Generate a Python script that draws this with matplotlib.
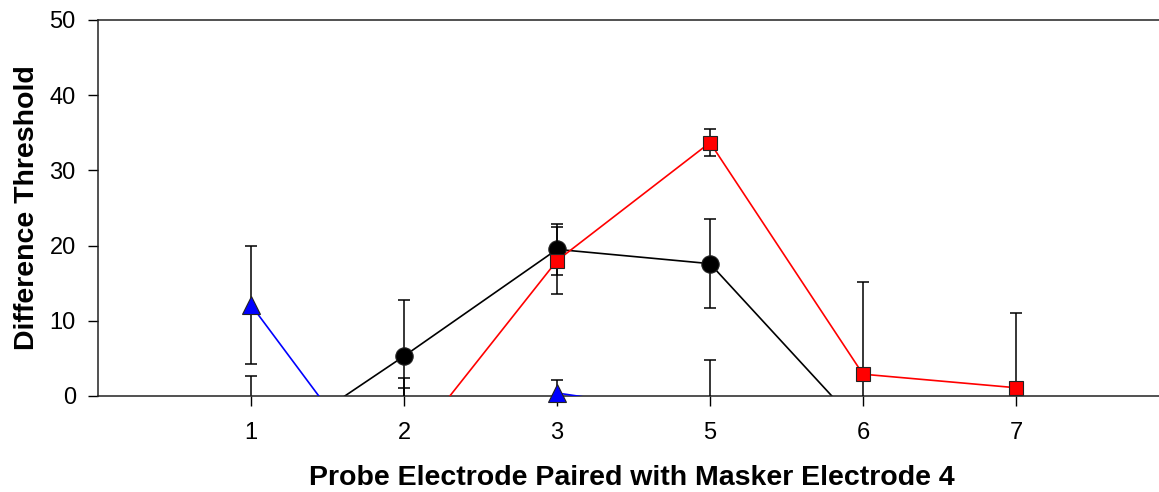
import numpy as np
import matplotlib
matplotlib.use("Agg")
import matplotlib.pyplot as plt

plt.rcParams['font.family'] = ['Liberation Sans', 'DejaVu Sans']

categories = ['1', '2', '3', '5', '6', '7']

black_vals = [-8.4, 5.3, 19.5, 17.6, -4.5, np.nan]
black_err = [11.1, 7.4, 3.4, 5.9, 3.0, np.nan]

red_vals = [np.nan, -7.7, 18.0, 33.7, 2.9, 1.1]
red_err = [np.nan, 8.8, 4.5, 1.8, 12.2, 10.0]

blue_vals = [12.1, -15.2, 0.4, -2.6, np.nan, np.nan]
blue_err = [7.8, 17.6, 1.7, 7.4, np.nan, np.nan]

fig = plt.figure(figsize=(11.59, 4.92), dpi=100)
ax = fig.add_axes([98 / 1159, 96 / 492, 1 - 98 / 1159, 376 / 492])

x = np.arange(1, len(categories) + 1)

series = [
    (black_vals, black_err, 'black', 'o', 12.5, 'black'),
    (red_vals, red_err, 'red', 's', 10.5, 'red'),
    (blue_vals, blue_err, 'blue', '^', 12.5, 'blue'),
]

z = 2
for vals, errs, lc, mk, ms, fc in series:
    v = np.array(vals, dtype=float)
    e = np.array(errs, dtype=float)
    ax.errorbar(x, v, yerr=e, fmt='none', ecolor='black', elinewidth=1.1,
                capsize=4, capthick=1.1, zorder=z)
    ax.plot(x, v, color=lc, lw=1.2, zorder=z + 0.1)
    vm = np.where(v >= 0, v, np.nan)
    ax.plot(x, vm, linestyle='none', marker=mk, markersize=ms,
            markerfacecolor=fc, markeredgecolor='#222222', markeredgewidth=0.8,
            clip_on=False, zorder=z + 0.2)
    z += 1

ax.set_xlim(0, (1159 - 98) / 153)
ax.set_ylim(0, 50)
ax.set_xticks(x)
ax.set_xticklabels(categories)
ax.set_yticks([0, 10, 20, 30, 40, 50])

for s in ['left', 'bottom', 'top']:
    ax.spines[s].set_linewidth(1.1)
    ax.spines[s].set_color('#222222')
ax.spines['right'].set_visible(False)

ax.tick_params(axis='both', direction='out', length=7, width=1.0,
               labelsize=17, colors='black')
ax.tick_params(axis='x', pad=12)
ax.tick_params(axis='y', pad=9)

ax.set_xlabel('Probe Electrode Paired with Masker Electrode 4',
              fontsize=20.5, fontweight='bold')
ax.set_ylabel('Difference Threshold', fontsize=20.5, fontweight='bold')
ax.xaxis.set_label_coords((632 - 98) / (1159 - 98), -(465 - 396) / 376)
ax.yaxis.set_label_coords(-(98 - 40) / (1159 - 98), 0.5)

fig.savefig('out.png', dpi=100)
